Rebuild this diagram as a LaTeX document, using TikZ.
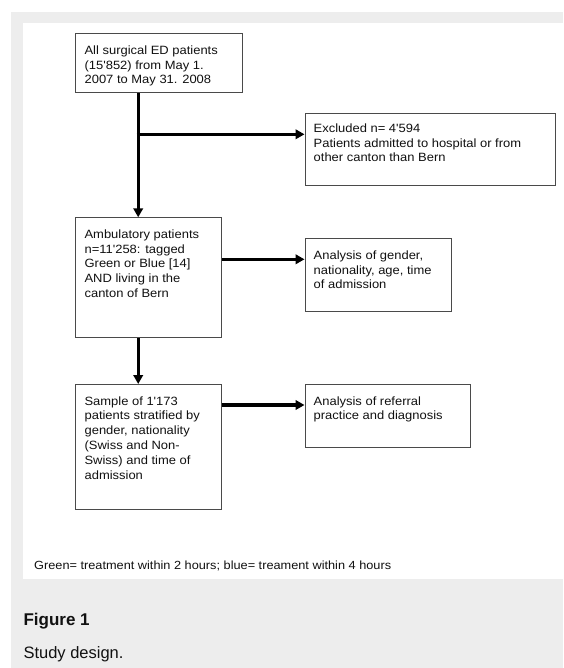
\documentclass[tikz,border=0pt]{standalone}
\usepackage{fontspec}
\setmainfont{Liberation Sans}
\newfontfamily\bxfont[FakeStretch=1.08,Ligatures=TeXOff]{Liberation Sans}
\newfontfamily\capfont{Liberation Sans}
\usetikzlibrary{arrows.meta,calc}
\definecolor{pagegrey}{HTML}{EDEDED}
\definecolor{boxline}{HTML}{4A4A4A}
\definecolor{txtc}{HTML}{111111}
\begin{document}
\begin{tikzpicture}[x=1pt,y=-1pt,
  flowbox/.style={draw=boxline,line width=1pt,fill=white,anchor=north west,inner sep=0pt},
  boxtxt/.style={anchor=base west,inner sep=0pt,text=txtc,font=\bxfont\fontsize{12}{14.8}\selectfont},
  arr/.style={line width=3.3pt,-{Triangle[length=9pt,width=9.5pt]}}]
\useasboundingbox (0,0) rectangle (563,668);
\fill[white] (0,0) rectangle (563,668);
\fill[pagegrey] (11,12) rectangle (563,668);
\fill[white] (23,23) rectangle (563,579);

% boxes
\node[flowbox,minimum width=167pt,minimum height=59pt] (b1) at (75.4,33.3) {};
\node[flowbox,minimum width=250.3pt,minimum height=72pt] (ex) at (304.5,113.3) {};
\node[flowbox,minimum width=145.4pt,minimum height=120pt] (b2) at (75.4,217.3) {};
\node[flowbox,minimum width=146.1pt,minimum height=72.4pt] (a1) at (304.5,238.3) {};
\node[flowbox,minimum width=145.4pt,minimum height=125pt] (b3) at (75.4,384) {};
\node[flowbox,minimum width=165.9pt,minimum height=62.7pt] (a2) at (304.5,384) {};

% box texts
\node[boxtxt] (t1) at (84.4,54.3) {\parbox[t]{160pt}{\raggedright All surgical ED patients\\(15'852) from May 1.\\2007 to May 31. 2008}};
\node[boxtxt] (tex) at (313.5,132.3) {\parbox[t]{240pt}{\raggedright Excluded n= 4'594\\Patients admitted to hospital or from\\other canton than Bern}};
\node[boxtxt] (t2) at (84.4,238.3) {\parbox[t]{140pt}{\raggedright Ambulatory patients\\n=11'258: tagged\\Green or Blue [14]\\AND living in the\\canton of Bern}};
\node[boxtxt] (ta1) at (313.5,259.3) {\parbox[t]{140pt}{\raggedright Analysis of gender,\\nationality, age, time\\of admission}};
\node[boxtxt] (t3) at (84.4,405) {\parbox[t]{140pt}{\raggedright Sample of 1'173\\patients stratified by\\gender, nationality\\(Swiss and Non-\\Swiss) and time of\\admission}};
\node[boxtxt] (ta2) at (313.5,405) {\parbox[t]{160pt}{\raggedright Analysis of referral\\practice and diagnosis}};

% connectors
\coordinate (j) at (138.2,134.3);
\coordinate (k) at (260,259.3);
\coordinate (m) at (260,405);
\draw[arr] (b1.south -| j) -- (b2.north -| j);
\draw[arr] ([xshift=-1.65pt]j) -- (ex.west |- j);
\draw[arr] (b2.east |- k) -- (a1.west |- k);
\draw[arr] (b2.south -| j) -- (b3.north -| j);
\draw[arr] (b3.east |- m) -- (a2.west |- m);

% footnote and caption
\node[anchor=base west,inner sep=0pt,text=txtc,font=\bxfont\fontsize{11.8}{14}\selectfont] (fn) at (34,569.3) {Green= treatment within 2 hours; blue= treament within 4 hours};
\node[anchor=base west,inner sep=0pt,text=txtc,font=\capfont\bfseries\fontsize{17}{20}\selectfont] (fig) at (23.3,625.3) {Figure 1};
\node[anchor=base west,inner sep=0pt,text=txtc,font=\capfont\fontsize{16.5}{20}\selectfont] (sd) at (23.3,658) {Study design.};
\end{tikzpicture}
\end{document}
